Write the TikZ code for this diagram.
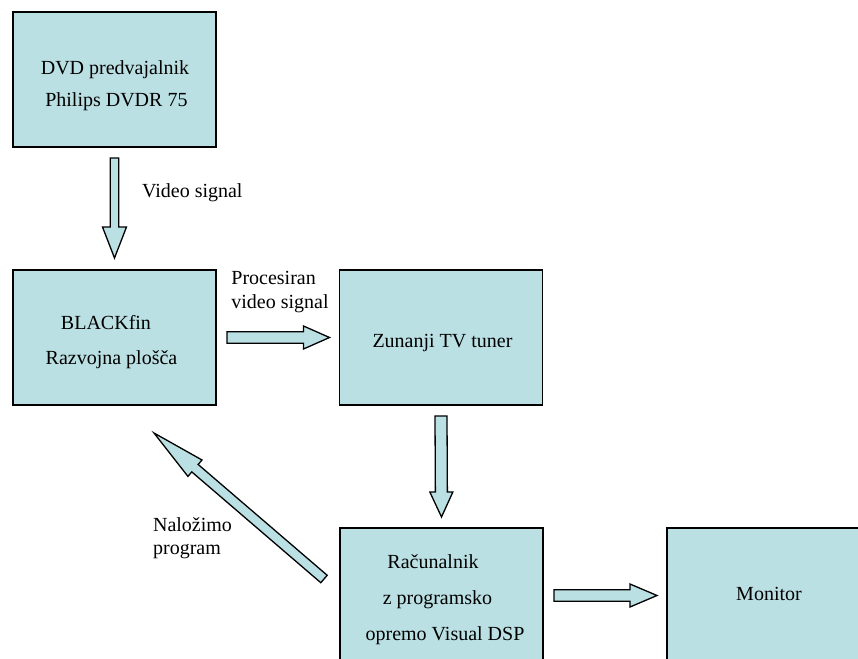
\documentclass[tikz,border=0pt]{standalone}
\usepackage{fontspec}
\setmainfont{Liberation Serif}
\usetikzlibrary{calc}
\definecolor{boxfill}{RGB}{187,224,227}
\tikzset{
  box/.style={draw,fill=boxfill,line width=0.65pt,minimum width=101.5pt,minimum height=67.5pt,inner sep=0pt,outer sep=0pt},
  arrowbody/.style={draw,fill=boxfill,line width=0.65pt,line join=miter},
  lbl/.style={inner sep=0pt,anchor=base,font=\fontsize{10}{12}\selectfont},
  lblw/.style={lbl,anchor=base west}
}
% block arrow: start, end, half shaft, half head, head length
\newcommand{\blockarrow}[5]{%
  \coordinate (bah) at ($(#2)!#5!(#1)$);
  \filldraw[arrowbody] ($(#1)!#3!90:(#2)$) -- ($(bah)!#3!90:(#2)$) -- ($(bah)!#4!90:(#2)$)
    -- (#2) -- ($(bah)!#4!-90:(#2)$) -- ($(bah)!#3!-90:(#2)$) -- ($(#1)!#3!-90:(#2)$) -- cycle;}

\begin{document}
\begin{tikzpicture}[x=0.5pt,y=-0.5pt]
  \useasboundingbox (0,0) rectangle (858,659);
  \clip (0,0) rectangle (858,659);
  % boxes
  \node[box] (dvd) at (114.5,79.5) {};
  \node[box] (blackfin) at (114.5,337.5) {};
  \node[box] (tuner) at (441,337.5) {};
  \node[box] (pc) at (441.5,595.5) {};
  \node[box] (monitor) at (768.5,595.5) {};
  % box texts
  \node[lbl] (dvdtxta) at (115,74) {DVD predvajalnik};
  \node[lbl] (dvdtxtb) at (116.4,106) {Philips DVDR 75};
  \node[lbl] (bftxta) at (106,329) {BLACKfin};
  \node[lbl] (bftxtb) at (111.5,364) {Razvojna plošča};
  \node[lbl] (tunertxt) at (442.5,347) {Zunanji TV tuner};
  \node[lbl] (pctxta) at (433,568) {Računalnik};
  \node[lbl] (pctxtb) at (437.5,604) {z programsko};
  \node[lbl] (pctxtc) at (445,640) {opremo Visual DSP};
  \node[lbl] (montxt) at (769,600) {Monitor};
  % arrow labels
  \node[lblw] (videolbl) at (141.7,197) {Video signal};
  \node[lblw] (proclbla) at (231,284) {Procesiran};
  \node[lblw] (proclblb) at (231,308) {video signal};
  \node[lblw] (loadlbla) at (152.7,531) {Naložimo};
  \node[lblw] (loadlblb) at (152.7,554) {program};
  % arrows
  \coordinate (dvdout) at ($(dvd.south)+(0,11)$);
  \coordinate (bfin) at ($(blackfin.north)+(0,-12)$);
  \coordinate (bfout) at ($(blackfin.east)+(11,0)$);
  \coordinate (tunerin) at ($(tuner.west)+(-10,0)$);
  \coordinate (tunerout) at ($(tuner.south)+(0,11)$);
  \coordinate (pcin) at ($(pc.north)+(0,-11)$);
  \coordinate (pcout) at ($(pc.east)+(11,0)$);
  \coordinate (monin) at ($(monitor.west)+(-10,0)$);
  \coordinate (pcload) at ($(pc.west)+(-16,-16.5)$);
  \coordinate (bfload) at ($(blackfin.south)+(39.5,28)$);
  \blockarrow{dvdout}{bfin}{2.15pt}{6pt}{15.5pt}
  \blockarrow{bfout}{tunerin}{2.9pt}{5.75pt}{13pt}
  \blockarrow{tunerout}{pcin}{3pt}{5.75pt}{12.5pt}
  \blockarrow{pcout}{monin}{2.9pt}{5.75pt}{13.5pt}
  \blockarrow{pcload}{bfload}{2.45pt}{5.4pt}{27pt}
\end{tikzpicture}
\end{document}
